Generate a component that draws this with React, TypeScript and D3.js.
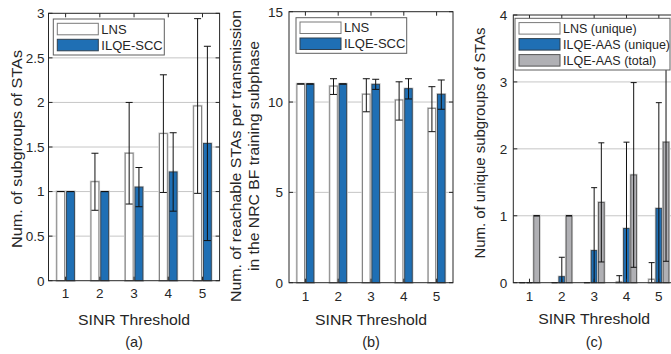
import * as d3 from "d3";
import React, { useEffect, useRef } from "react";

const thresholds = [1, 2, 3, 4, 5];

// (a) number of subgroups of STAs
const lnsSubgroups = [1.0, 1.11, 1.43, 1.65, 1.96];
const lnsSubgroupsLo = [1.0, 0.79, 0.86, 0.99, 0.98];
const lnsSubgroupsHi = [1.0, 1.43, 2.0, 2.31, 2.94];
const sccSubgroups = [1.0, 1.0, 1.05, 1.22, 1.54];
const sccSubgroupsLo = [1.0, 1.0, 0.83, 0.78, 0.45];
const sccSubgroupsHi = [1.0, 1.0, 1.27, 1.66, 2.63];

// (b) reachable STAs per transmission
const lnsReach = [11.0, 10.88, 10.43, 10.11, 9.65];
const lnsReachLo = [11.0, 10.42, 9.46, 9.0, 8.36];
const lnsReachHi = [11.0, 11.29, 11.29, 11.12, 10.85];
const sccReach = [11.0, 11.0, 10.98, 10.74, 10.43];
const sccReachLo = [11.0, 11.0, 10.7, 10.17, 9.6];
const sccReachHi = [11.0, 11.0, 11.26, 11.29, 11.22];

// (c) unique subgroups (null = lower whisker clipped at axis)
const lnsUnique = [0, 0, 0, 0.01, 0.05];
const lnsUniqueLo = [0, 0, 0, null, null];
const lnsUniqueHi = [0, 0, 0, 0.105, 0.3];
const aasUnique = [0, 0.09, 0.48, 0.81, 1.11];
const aasUniqueLo = [0, null, null, null, null];
const aasUniqueHi = [0, 0.38, 1.42, 2.1, 2.69];
const aasTotal = [1.0, 1.0, 1.2, 1.61, 2.1];
const aasTotalLo = [1.0, 1.0, 0.31, 0.23, 0.32];
const aasTotalHi = [1.0, 1.0, 2.09, 2.99, 3.88];

const BLUE = "#1f6fb4";
const GRAY = "#b0b0b4";
const INK = "#262626";
const FONT = "'Liberation Sans', Arial, sans-serif";

const white = { fill: "#ffffff", edge: "#7a7a7a" };
const blue = { fill: BLUE, edge: "#30404f" };
const gray = { fill: GRAY, edge: "#555555" };

const panels = [
  {
    left: 48.5, right: 219.6, top: 13.3, bottom: 280.7,
    yMax: 3, yStep: 0.5, tickGap: 4, xTickY: 297.5, xLabelY: 325,
    ylabel: ["Num. of subgroups of STAs"], ylabelLen: [198], ylabelX: 22, ylabelY: 149, ylabelSize: 15.5,
    caption: "(a)", cap: 3.5,
    legend: { x: 53.3, y: 19, w: 111, h: 36, size: 13 },
    series: [
      { name: "LNS", ...white, mean: lnsSubgroups, lo: lnsSubgroupsLo, hi: lnsSubgroupsHi },
      { name: "ILQE-SCC", ...blue, mean: sccSubgroups, lo: sccSubgroupsLo, hi: sccSubgroupsHi },
    ],
  },
  {
    left: 289, right: 453, top: 11.7, bottom: 282.7,
    yMax: 15, yStep: 5, tickGap: 6, xTickY: 301, xLabelY: 325,
    ylabel: ["Num. of reachable STAs per transmission", "in the NRC BF training subphase"],
    ylabelLen: [292, 230], ylabelX: 240.5, ylabelY: 156, ylabelSize: 15.5,
    caption: "(b)", cap: 3.5,
    legend: { x: 296, y: 17.7, w: 110.7, h: 35.6, size: 13 },
    series: [
      { name: "LNS", ...white, mean: lnsReach, lo: lnsReachLo, hi: lnsReachHi },
      { name: "ILQE-SCC", ...blue, mean: sccReach, lo: sccReachLo, hi: sccReachHi },
    ],
  },
  {
    left: 513.3, right: 675, top: 15, bottom: 282.7,
    yMax: 4, yStep: 1, tickGap: 6, xTickY: 301, xLabelY: 324,
    ylabel: ["Num. of unique subgroups of STAs"], ylabelLen: [231], ylabelX: 484.5, ylabelY: 143, ylabelSize: 14.5,
    caption: "(c)", cap: 3,
    legend: { x: 515, y: 18.3, w: 155, h: 51.7, size: 12.5 },
    series: [
      { name: "LNS (unique)", ...white, mean: lnsUnique, lo: lnsUniqueLo, hi: lnsUniqueHi },
      { name: "ILQE-AAS (unique)", ...blue, mean: aasUnique, lo: aasUniqueLo, hi: aasUniqueHi },
      { name: "ILQE-AAS (total)", ...gray, mean: aasTotal, lo: aasTotalLo, hi: aasTotalHi },
    ],
  },
];

function drawPanel(root: any, p: any) {
  const x = d3.scaleLinear().domain([0.5, 5.5]).range([p.left, p.right]);
  const y = d3.scaleLinear().domain([0, p.yMax]).range([p.bottom, p.top]);
  const g = root.append("g");
  const yTicks = d3.range(0, p.yMax + p.yStep / 2, p.yStep);

  // grid
  g.append("g")
    .selectAll("line")
    .data(yTicks.slice(1, -1))
    .join("line")
    .attr("x1", p.left).attr("x2", p.right)
    .attr("y1", (d: number) => y(d)).attr("y2", (d: number) => y(d))
    .attr("stroke", "#c6c6c6").attr("stroke-width", 1);

  // grouped bars, MATLAB-style spacing
  const n = p.series.length;
  const gw = Math.min(0.8, n / (n + 1.5));
  const slot = gw / n;
  const bw = slot * 0.8;
  const offsets = p.series.map((_: any, i: number) => -gw / 2 + slot * (i + 0.5));

  p.series.forEach((s: any, i: number) => {
    const bars = g.append("g");
    const rect = (sel: any) =>
      sel
        .attr("x", (_: any, j: number) => x(thresholds[j] + offsets[i] - bw / 2))
        .attr("width", x(bw) - x(0))
        .attr("y", (d: number) => y(d))
        .attr("height", (d: number) => y(0) - y(d));
    bars.selectAll("rect.halo").data(s.mean).join("rect").attr("class", "halo")
      .call(rect).attr("fill", "none").attr("stroke", "#cdcdcd").attr("stroke-width", 2.4);
    bars.selectAll("rect.bar").data(s.mean).join("rect").attr("class", "bar")
      .call(rect).attr("fill", s.fill).attr("stroke", s.edge).attr("stroke-width", 0.9);
  });

  // error bars
  p.series.forEach((s: any, i: number) => {
    const eb = g.append("g").attr("stroke", "#111").attr("stroke-width", 1);
    s.mean.forEach((_: number, j: number) => {
      const cx = x(thresholds[j] + offsets[i]);
      const lo = s.lo[j];
      const yHi = y(s.hi[j]);
      const yLo = lo === null ? y(0) : y(lo);
      eb.append("line").attr("x1", cx).attr("x2", cx).attr("y1", yHi).attr("y2", yLo);
      eb.append("line").attr("x1", cx - p.cap).attr("x2", cx + p.cap).attr("y1", yHi).attr("y2", yHi);
      if (lo !== null)
        eb.append("line").attr("x1", cx - p.cap).attr("x2", cx + p.cap).attr("y1", yLo).attr("y2", yLo);
    });
  });

  // axes box + inward ticks
  const ax = g.append("g").attr("stroke", INK).attr("stroke-width", 1).attr("fill", "none");
  ax.append("rect").attr("x", p.left).attr("y", p.top)
    .attr("width", p.right - p.left).attr("height", p.bottom - p.top);
  thresholds.forEach((t) => {
    ax.append("line").attr("x1", x(t)).attr("x2", x(t)).attr("y1", p.bottom).attr("y2", p.bottom - 4);
    ax.append("line").attr("x1", x(t)).attr("x2", x(t)).attr("y1", p.top).attr("y2", p.top + 4);
  });
  yTicks.forEach((v: number) => {
    ax.append("line").attr("x1", p.left).attr("x2", p.left + 4).attr("y1", y(v)).attr("y2", y(v));
    ax.append("line").attr("x1", p.right).attr("x2", p.right - 4).attr("y1", y(v)).attr("y2", y(v));
  });

  const txt = g.append("g").attr("fill", INK).attr("font-family", FONT);
  txt.selectAll("text.yt").data(yTicks).join("text")
    .attr("x", p.left - p.tickGap).attr("y", (d: number) => y(d)).attr("dy", "0.36em")
    .attr("text-anchor", "end").attr("font-size", 13.5).text((d: number) => String(d));
  txt.selectAll("text.xt").data(thresholds).join("text")
    .attr("x", (d: number) => x(d)).attr("y", p.xTickY)
    .attr("text-anchor", "middle").attr("font-size", 13.5).text((d: number) => String(d));

  const cx = (p.left + p.right) / 2;
  txt.append("text").attr("x", cx).attr("y", p.xLabelY).attr("text-anchor", "middle")
    .attr("font-size", 15.5).attr("textLength", 112).attr("lengthAdjust", "spacingAndGlyphs")
    .text("SINR Threshold");
  txt.append("text").attr("x", cx).attr("y", 346.5).attr("text-anchor", "middle")
    .attr("font-size", 14.5).text(p.caption);

  const yl = txt.append("g").attr("transform", `translate(${p.ylabelX},${p.ylabelY}) rotate(-90)`);
  p.ylabel.forEach((line: string, k: number) => {
    yl.append("text").attr("x", 0).attr("y", k * 18.5).attr("text-anchor", "middle")
      .attr("font-size", p.ylabelSize).attr("textLength", p.ylabelLen[k])
      .attr("lengthAdjust", "spacingAndGlyphs").text(line);
  });

  // legend
  const L = p.legend;
  const lg = g.append("g");
  lg.append("rect").attr("x", L.x).attr("y", L.y).attr("width", L.w).attr("height", L.h)
    .attr("fill", "#fff").attr("stroke", "#5e5e5e").attr("stroke-width", 1);
  p.series.forEach((s: any, i: number) => {
    const ry = L.y + 4.3 + i * 16;
    lg.append("rect").attr("x", L.x + 4).attr("y", ry).attr("width", 41).attr("height", 11.5)
      .attr("fill", s.fill).attr("stroke", s.edge).attr("stroke-width", 1);
    lg.append("text").attr("x", L.x + 48).attr("y", ry + 5.75).attr("dy", "0.36em")
      .attr("font-family", FONT).attr("font-size", L.size).attr("fill", INK).text(s.name);
  });
}

export default function App() {
  const ref = useRef<SVGSVGElement>(null);
  useEffect(() => {
    const svg = d3.select(ref.current);
    svg.selectAll("*").remove();
    svg.append("rect").attr("width", 671).attr("height", 354).attr("fill", "#fff");
    panels.forEach((p) => drawPanel(svg, p));
  }, []);
  return (
    <svg
      ref={ref}
      width={671}
      height={354}
      style={{ position: "absolute", left: 0, top: 0, display: "block" }}
    />
  );
}
